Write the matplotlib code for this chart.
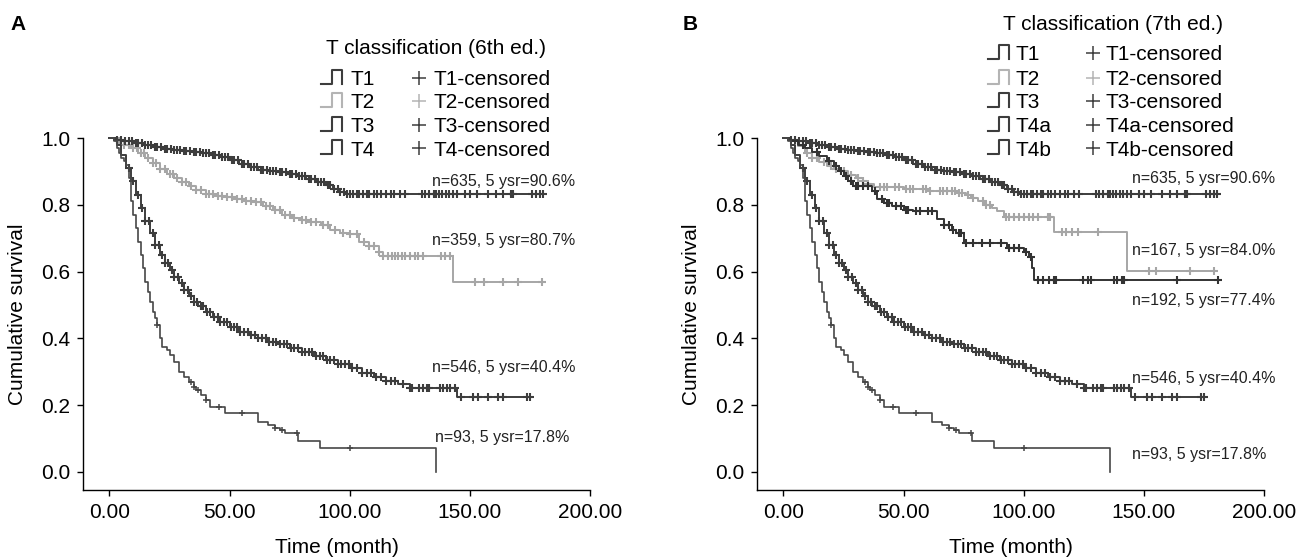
import numpy as np
import matplotlib.pyplot as plt
from matplotlib.lines import Line2D
from matplotlib.ticker import FormatStrFormatter

plt.rcParams['font.family'] = ['Liberation Sans', 'DejaVu Sans']

# ---- curves shared by both panels (6th T1 = 7th T1, 6th T3 = 7th T4a, 6th T4 = 7th T4b)
t1_time = [0, 3, 6, 10, 14, 18, 22, 26, 30, 34, 38, 42, 46, 50, 54, 58, 62, 66, 70, 74, 78, 82, 86, 90, 93, 96, 98]
t1_surv = [1.0, 0.995, 0.99, 0.985, 0.978, 0.972, 0.968, 0.965, 0.962, 0.959, 0.956, 0.95, 0.942, 0.933, 0.922, 0.912,
           0.905, 0.902, 0.898, 0.893, 0.887, 0.877, 0.868, 0.858, 0.848, 0.838, 0.831]
t1_cens = [3, 5, 6.5, 8, 9.5, 11, 12, 13.5, 15, 16, 17.5, 19, 20, 21.5, 23, 24, 25.5, 27, 28, 29.5, 31, 32, 33.5, 35,
           36, 37.5, 39, 40, 41.5, 43, 44, 45.5, 47, 48, 49.5, 51, 52, 53.5, 55, 56, 57.5, 59, 60, 61.5, 63, 64, 65.5,
           67, 68, 69.5, 71, 72, 73.5, 75, 76, 77.5, 79, 80, 81.5, 83, 84, 85.5, 87, 88, 89.5, 91, 92, 93.5, 95,
           96, 97.5, 99, 100, 101.5, 103, 104, 105.5, 107, 108, 110, 111.5, 113, 115, 117, 118.5, 121, 123,
           130, 131.5, 133, 135, 136, 137, 138.5, 140, 141.5, 143, 144.5, 148, 150, 153, 157.5, 161, 164, 167,
           168, 176, 177.5, 179, 180.5]
t1_end = 180.5

t3_time = [0, 3, 5, 7, 9, 11, 13, 15, 17, 19, 21, 23, 25, 27, 29, 31, 33, 35, 37, 40, 43, 46, 50, 54, 58, 62, 66,
           70, 75, 80, 85, 90, 95, 100, 105, 110, 115, 120, 125, 144.5]
t3_surv = [1.0, 0.98, 0.95, 0.91, 0.87, 0.83, 0.79, 0.75, 0.715, 0.68, 0.65, 0.625, 0.605, 0.585, 0.565, 0.545,
           0.527, 0.51, 0.497, 0.48, 0.463, 0.45, 0.435, 0.42, 0.41, 0.4, 0.39, 0.382, 0.372, 0.36, 0.347, 0.336,
           0.322, 0.31, 0.297, 0.283, 0.272, 0.262, 0.252, 0.225]
t3_cens = [8, 10, 12, 13.5, 15, 16.5, 18, 19, 20.5, 22, 23, 24.5, 26, 27, 28.5, 30, 31, 32.5, 34, 35, 36.5, 38,
           39, 40.5, 42, 43.5, 45, 46, 47.5, 49, 50.5, 52, 53, 54.5, 56, 57.5, 59, 60.5, 62, 63.5, 65, 66.5, 68,
           69.5, 71, 72.5, 74, 75.5, 77, 78.5, 80, 81.5, 83, 84.5, 86, 87.5, 89, 90.5, 92, 93.5, 95, 96.5, 98,
           99.5, 101, 103, 105, 107, 109, 111, 113, 115, 117, 119, 122, 125, 126, 129, 130.5, 132, 133, 137.5,
           139, 140.5, 141.7, 143.7, 146.5, 151.4, 153.5, 157.6, 161.8, 163.9, 173.6, 175]
t3_end = 175

t4_time = [0, 2, 3, 4, 5, 6, 7, 8, 9, 10, 11, 12, 13, 14, 15, 16, 17, 18, 19, 20, 21, 22, 24, 25, 27, 29, 31, 33,
           35, 36, 38, 40, 41.7, 48, 62, 66, 69, 71, 73, 78.5, 87.5, 136]
t4_surv = [1.0, 0.99, 0.97, 0.955, 0.94, 0.93, 0.92, 0.88, 0.81, 0.77, 0.73, 0.69, 0.65, 0.61, 0.57, 0.54, 0.51,
           0.48, 0.46, 0.44, 0.4, 0.375, 0.366, 0.35, 0.33, 0.3, 0.285, 0.27, 0.255, 0.245, 0.23, 0.215, 0.195,
           0.178, 0.15, 0.14, 0.132, 0.125, 0.117, 0.093, 0.072, 0.0]
t4_cens = [20, 34, 35, 37, 40, 45.5, 55, 69, 72, 78, 100]
t4_end = None

# ---- 6th edition T2
a_t2_time = [0, 3, 6, 9, 12, 15, 18, 21, 24, 27, 30, 33, 36, 40, 44, 48, 52, 56, 60, 64, 68, 72, 76, 80, 84, 88,
             92, 96, 100, 104, 108, 112, 114, 143]
a_t2_surv = [1.0, 0.99, 0.98, 0.97, 0.955, 0.94, 0.925, 0.908, 0.893, 0.88, 0.868, 0.856, 0.845, 0.832, 0.826,
             0.822, 0.818, 0.812, 0.807, 0.797, 0.783, 0.77, 0.76, 0.753, 0.748, 0.74, 0.725, 0.717, 0.712, 0.69,
             0.676, 0.66, 0.648, 0.568]
a_t2_cens = [4, 6, 8, 10, 11.5, 13, 14.5, 16, 18, 19.5, 21, 23, 25, 26.5, 28, 30, 32, 34, 36, 38, 40, 41.5, 43,
             45, 47, 49, 51, 53, 55, 57, 59, 61, 63, 65, 67, 69, 71, 73, 75, 77, 80, 82, 84, 86, 89, 91, 94, 97,
             100, 103, 106, 108, 110, 112, 114, 116, 117.5, 119, 120, 121.7, 123, 125, 127, 128.5, 130.5, 138,
             139.5, 141.7, 152, 156, 164, 170, 180]
a_t2_end = 180

# ---- 7th edition T2 and T3
b_t2_time = [0, 3, 6, 9, 12, 15, 18, 21, 24, 27, 30, 33, 35, 37.5, 50, 60, 72, 76, 78, 81, 84, 87, 89, 92, 112.5,
             143]
b_t2_surv = [1.0, 0.99, 0.975, 0.955, 0.94, 0.928, 0.915, 0.908, 0.9, 0.89, 0.88, 0.87, 0.862, 0.852, 0.848,
             0.841, 0.836, 0.828, 0.82, 0.81, 0.8, 0.79, 0.781, 0.762, 0.72, 0.603]
b_t2_cens = [10, 12, 14, 17, 20, 22, 25, 28, 31, 33, 35, 40, 41.7, 43, 46.5, 48, 51, 52.5, 54, 58, 59.5, 61, 65,
             66.5, 68, 70, 71.5, 73, 74.5, 77, 79, 83, 84.5, 86, 92.5, 94, 96, 98, 100, 102, 104, 106, 110, 111,
             116, 117.5, 120, 122.5, 131, 152, 155, 169, 179]
b_t2_end = 179

b_t3_time = [0, 3, 6, 9, 12, 15, 18, 21, 23, 25, 27, 29, 37, 39, 42, 45, 50, 54, 64, 67, 70, 72, 75, 93, 100,
             102, 103.6, 104.3]
b_t3_surv = [1.0, 0.99, 0.98, 0.97, 0.957, 0.945, 0.93, 0.915, 0.9, 0.885, 0.87, 0.856, 0.84, 0.816, 0.806,
             0.795, 0.785, 0.78, 0.756, 0.74, 0.725, 0.717, 0.687, 0.672, 0.66, 0.645, 0.612, 0.576]
b_t3_cens = [8, 14, 19, 22, 24, 26, 28, 30, 31, 33, 35, 38, 41, 43, 44, 47, 49, 51, 52, 55, 57, 60, 62, 67, 69,
             70.5, 73, 74, 76, 79, 82.6, 86, 90.4, 94, 96, 98, 101, 103, 106, 108, 110.5, 112.5, 113.3, 124.6,
             126.6, 128, 137.5, 139, 141, 141.7, 164, 181]
b_t3_end = 181

a_notes = ['n=635, 5 ysr=90.6%', 'n=359, 5 ysr=80.7%', 'n=546, 5 ysr=40.4%', 'n=93, 5 ysr=17.8%']
b_notes = ['n=635, 5 ysr=90.6%', 'n=167, 5 ysr=84.0%', 'n=192, 5 ysr=77.4%', 'n=546, 5 ysr=40.4%',
           'n=93, 5 ysr=17.8%']
a_labels = ['T1', 'T2', 'T3', 'T4']
b_labels = ['T1', 'T2', 'T3', 'T4a', 'T4b']

dark = '#3d3d3d'
light = '#a6a6a6'

W, H = 1297, 559
fig = plt.figure(figsize=(W / 100, H / 100), dpi=100)


def fx(x):
    return x / W


def fy(y):
    return 1 - y / H


def km(ax, time, surv, cens, end, color, z, lw=1.4, ms=6, mew=1.5):
    t = list(time)
    s = list(surv)
    if end:
        t.append(end)
        s.append(surv[-1])
    ax.plot(t, s, drawstyle='steps-post', color=color, lw=lw, clip_on=False, zorder=z)
    idx = np.searchsorted(time, cens, side='right') - 1
    ax.plot(cens, np.array(surv)[idx], '+', color=color, ms=ms, mew=mew, clip_on=False, zorder=z)


def setup(ax):
    ax.set_xlim(-11, 200)
    ax.set_ylim(-0.054, 1.0)
    ax.set_xticks([0, 50, 100, 150, 200])
    ax.set_yticks([0, 0.2, 0.4, 0.6, 0.8, 1.0])
    ax.xaxis.set_major_formatter(FormatStrFormatter('%.2f'))
    ax.yaxis.set_major_formatter(FormatStrFormatter('%.1f'))
    ax.spines['top'].set_visible(False)
    ax.spines['right'].set_visible(False)
    for sp in ['left', 'bottom']:
        ax.spines[sp].set_linewidth(1.0)
    ax.tick_params(direction='out', length=4, width=1.0, labelsize=15, pad=5)
    ax.set_xlabel('Time (month)', fontsize=15, va='center')
    ax.set_ylabel('Cumulative survival', fontsize=15, va='center')
    ax.xaxis.set_label_coords(0.5, -0.162)
    ax.yaxis.set_label_coords(-0.129, 0.5)


def legend(title, tx, ty, labels, colors, rows, x_icon, x_lab, x_plus, x_cens):
    fig.text(fx(tx), fy(ty + 7.5), title, ha='center', va='baseline', fontsize=15)
    for lab, col, y in zip(labels, colors, rows):
        xs = [x_icon, x_icon + 11, x_icon + 11, x_icon + 21, x_icon + 21]
        ys = [y + 5.5, y + 5.5, y - 8.5, y - 8.5, y + 5.5]
        fig.add_artist(Line2D([fx(v) for v in xs], [fy(v) for v in ys], color=col, lw=1.5,
                              transform=fig.transFigure))
        fig.text(fx(x_lab), fy(y + 7.5), lab, ha='left', va='baseline', fontsize=15)
        fig.add_artist(Line2D([fx(x_plus)], [fy(y)], marker='+', ms=10, mew=1.1, color=col,
                              transform=fig.transFigure))
        fig.text(fx(x_cens), fy(y + 7.5), lab + '-censored', ha='left', va='baseline', fontsize=15)


# ---- panel A
axA = fig.add_axes([fx(83), fy(490), 507 / W, 352 / H])
setup(axA)
km(axA, a_t2_time, a_t2_surv, a_t2_cens, a_t2_end, light, 2)
km(axA, t1_time, t1_surv, t1_cens, t1_end, dark, 3)
km(axA, t3_time, t3_surv, t3_cens, t3_end, dark, 3)
km(axA, t4_time, t4_surv, t4_cens, t4_end, '#474747', 3, lw=1.2, ms=5, mew=1.1)
for txt, x, y in zip(a_notes, [134.2, 134.2, 134.2, 135.4], [0.856, 0.679, 0.298, 0.091]):
    axA.text(x, y, txt, fontsize=11.5, color='#222222', ha='left', va='baseline')

# ---- panel B
axB = fig.add_axes([fx(757), fy(490), 507 / W, 352 / H])
setup(axB)
km(axB, b_t2_time, b_t2_surv, b_t2_cens, b_t2_end, light, 2)
km(axB, t1_time, t1_surv, t1_cens, t1_end, dark, 3)
km(axB, b_t3_time, b_t3_surv, b_t3_cens, b_t3_end, '#333333', 3)
km(axB, t3_time, t3_surv, t3_cens, t3_end, dark, 3)
km(axB, t4_time, t4_surv, t4_cens, t4_end, '#474747', 3, lw=1.2, ms=5, mew=1.1)
for txt, y in zip(b_notes, [0.865, 0.649, 0.499, 0.265, 0.040]):
    axB.text(145, y, txt, fontsize=11.5, color='#222222', ha='left', va='baseline')

legend('T classification (6th ed.)', 436, 47, a_labels, [dark, '#b4b4b4', dark, dark],
       [78, 101, 125, 148], 321, 350, 419, 433)
legend('T classification (7th ed.)', 1113, 22, b_labels, [dark, '#b4b4b4', dark, dark, dark],
       [53, 78, 101, 125, 148], 988, 1015, 1093, 1105)

fig.text(fx(10), fy(29.5), 'A', fontsize=15, fontweight='bold', ha='left', va='baseline')
fig.text(fx(683), fy(29.5), 'B', fontsize=15, fontweight='bold', ha='left', va='baseline')

fig.savefig('out.png', dpi=100)
